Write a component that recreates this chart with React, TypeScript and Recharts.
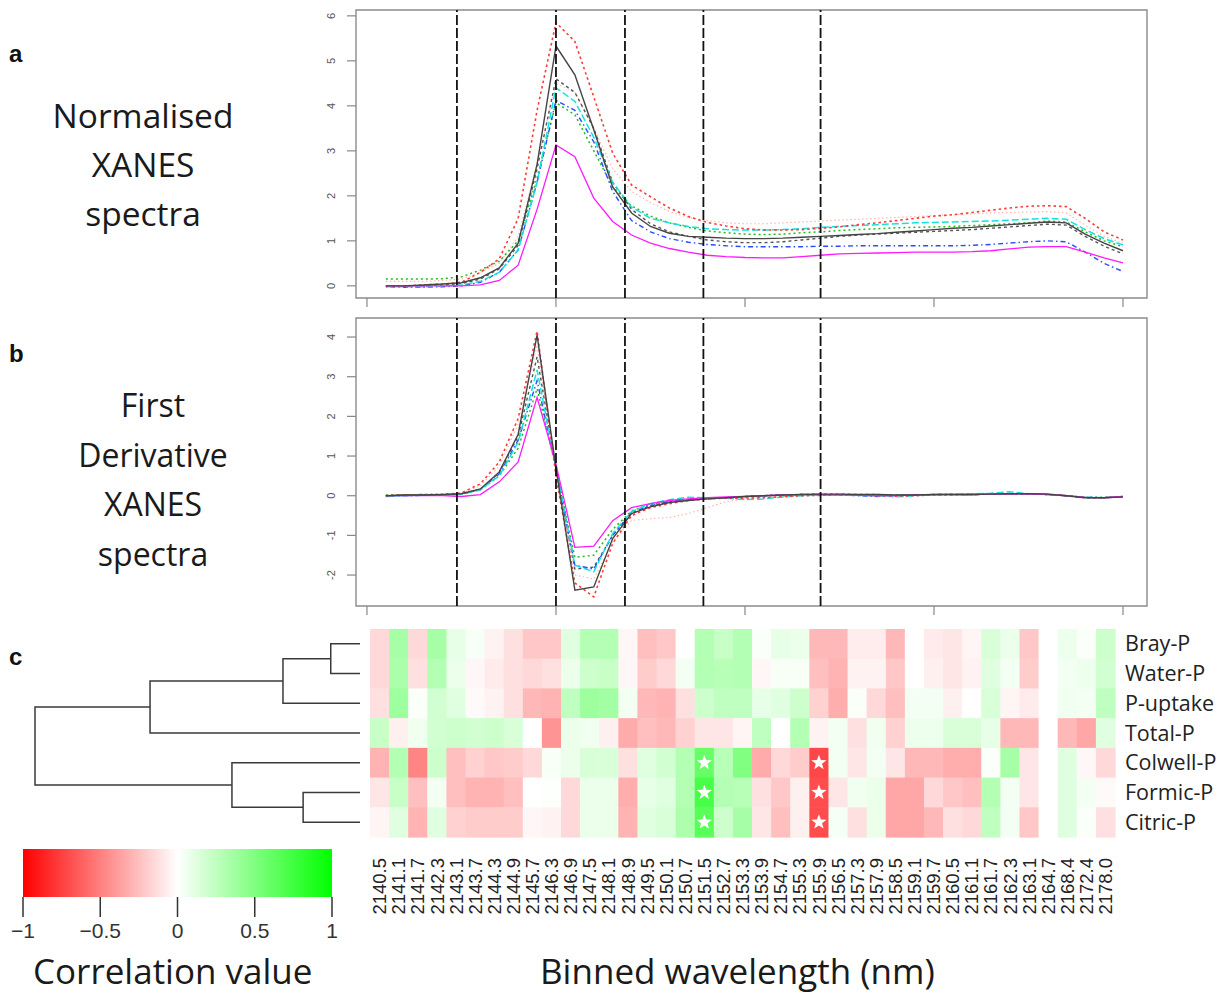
import React from 'react';
import {
  LineChart, Line, XAxis, YAxis, ReferenceLine, ReferenceArea,
  ScatterChart, Scatter,
} from 'recharts';

// ---- spectra (index 1..40) ----
// normalised XANES
const normBlack = [0.0,0.0,0.02,0.04,0.07,0.18,0.4,0.95,2.7,5.33,4.69,3.47,2.2,1.62,1.32,1.17,1.1,1.08,1.06,1.05,1.05,1.06,1.08,1.1,1.12,1.14,1.16,1.19,1.22,1.25,1.28,1.3,1.33,1.36,1.39,1.42,1.4,1.15,0.95,0.78];
const normRed = [0.0,0.0,0.02,0.04,0.08,0.3,0.6,1.5,3.9,5.85,5.43,4.2,2.95,2.24,1.98,1.73,1.54,1.41,1.33,1.27,1.24,1.24,1.25,1.28,1.31,1.36,1.4,1.45,1.5,1.55,1.58,1.63,1.68,1.73,1.77,1.78,1.76,1.5,1.2,1.02];
const normGreen = [0.15,0.15,0.15,0.16,0.2,0.35,0.55,1.0,2.4,4.07,3.8,3.0,2.2,1.78,1.55,1.4,1.3,1.22,1.18,1.15,1.14,1.15,1.18,1.2,1.23,1.25,1.27,1.29,1.3,1.31,1.32,1.34,1.36,1.38,1.4,1.44,1.42,1.2,1.0,0.87];
const normBlue = [-0.02,-0.03,-0.03,-0.02,0.0,0.08,0.3,0.8,2.3,4.12,3.9,3.2,2.1,1.45,1.2,1.05,0.97,0.92,0.89,0.87,0.87,0.87,0.87,0.88,0.88,0.89,0.89,0.89,0.89,0.89,0.89,0.9,0.92,0.95,0.98,1.0,0.98,0.75,0.5,0.32];
const normCyan = [-0.02,-0.02,-0.02,-0.01,0.02,0.1,0.3,0.8,2.3,4.4,4.1,3.3,2.3,1.75,1.5,1.4,1.32,1.27,1.25,1.24,1.24,1.25,1.27,1.3,1.32,1.34,1.36,1.38,1.4,1.41,1.42,1.43,1.44,1.46,1.48,1.5,1.48,1.25,1.05,0.91];
const normMagenta = [0.0,0.0,0.0,0.0,0.0,0.02,0.12,0.46,1.7,3.13,2.87,1.95,1.43,1.13,0.95,0.83,0.75,0.68,0.65,0.63,0.62,0.62,0.65,0.68,0.71,0.72,0.73,0.74,0.75,0.75,0.75,0.76,0.78,0.82,0.86,0.87,0.87,0.75,0.62,0.51];
const normGrey = [0.0,0.0,0.0,0.02,0.05,0.15,0.38,0.9,2.6,4.6,4.3,3.5,2.3,1.7,1.38,1.2,1.1,1.02,0.98,0.96,0.96,0.98,1.02,1.06,1.1,1.13,1.15,1.17,1.19,1.21,1.23,1.25,1.28,1.31,1.34,1.37,1.35,1.1,0.88,0.71];
const normPink = [0.1,0.1,0.1,0.12,0.15,0.3,0.5,1.1,2.7,4.5,4.3,3.5,2.6,2.1,1.85,1.65,1.52,1.45,1.4,1.38,1.38,1.4,1.42,1.44,1.46,1.48,1.5,1.52,1.54,1.56,1.58,1.6,1.62,1.63,1.64,1.65,1.62,1.35,1.1,0.95];

// first derivative
const derivBlack = [0.0,0.02,0.02,0.03,0.05,0.17,0.6,1.55,4.05,0.7,-2.38,-2.3,-1.08,-0.45,-0.28,-0.17,-0.12,-0.08,-0.05,-0.02,0.0,0.02,0.03,0.04,0.04,0.03,0.03,0.02,0.02,0.03,0.03,0.03,0.04,0.05,0.05,0.04,0.0,-0.05,-0.05,-0.03];
const derivRed = [0.0,0.02,0.03,0.03,0.07,0.3,0.85,1.95,4.15,0.5,-2.2,-2.55,-1.2,-0.5,-0.3,-0.2,-0.12,-0.08,-0.06,-0.06,-0.05,-0.02,0.0,0.01,0.02,0.02,0.0,-0.01,0.0,0.02,0.03,0.03,0.04,0.05,0.05,0.04,0.0,-0.05,-0.05,-0.03];
const derivGreen = [0.02,0.02,0.03,0.03,0.05,0.15,0.5,1.2,2.7,0.7,-1.55,-1.5,-0.85,-0.38,-0.22,-0.14,-0.1,-0.07,-0.05,-0.03,0.0,0.02,0.03,0.03,0.03,0.02,0.02,0.02,0.02,0.03,0.03,0.03,0.04,0.05,0.05,0.03,0.0,-0.04,-0.04,-0.02];
const derivBlue = [0.0,0.0,0.01,0.02,0.04,0.15,0.55,1.4,2.9,0.7,-1.75,-1.85,-1.0,-0.42,-0.25,-0.15,-0.1,-0.07,-0.05,-0.02,0.0,0.02,0.03,0.03,0.02,0.0,-0.02,0.0,0.02,0.03,0.03,0.03,0.04,0.05,0.04,0.03,0.0,-0.04,-0.05,-0.03];
const derivCyan = [-0.02,0.0,0.01,0.02,0.04,0.15,0.5,1.35,3.17,0.7,-1.75,-1.92,-0.95,-0.4,-0.2,-0.1,-0.04,-0.05,-0.06,-0.1,-0.08,-0.03,0.0,0.02,0.02,0.01,0.0,-0.03,0.0,0.03,0.04,0.05,0.06,0.1,0.05,0.03,0.0,-0.04,-0.05,-0.02];
const derivMagenta = [0.0,0.0,0.0,0.0,-0.02,0.03,0.35,0.85,2.48,0.8,-1.3,-1.27,-0.63,-0.3,-0.2,-0.12,-0.08,-0.05,-0.03,-0.02,0.0,0.02,0.03,0.03,0.02,0.01,0.0,0.0,0.02,0.03,0.03,0.03,0.04,0.05,0.05,0.03,0.0,-0.04,-0.05,-0.02];
const derivGrey = [0.0,0.02,0.02,0.03,0.05,0.16,0.58,1.5,3.5,0.7,-1.85,-1.8,-1.0,-0.42,-0.26,-0.16,-0.11,-0.08,-0.05,-0.02,0.0,0.02,0.03,0.04,0.04,0.03,0.03,0.02,0.02,0.03,0.03,0.03,0.04,0.05,0.05,0.04,0.0,-0.05,-0.05,-0.03];
const derivPink = [0.0,0.02,0.03,0.03,0.06,0.25,0.75,1.8,3.8,0.6,-2.0,-2.1,-1.15,-0.62,-0.58,-0.55,-0.45,-0.3,-0.15,-0.08,-0.04,-0.02,0.0,0.01,0.02,0.02,0.01,0.0,0.01,0.02,0.03,0.03,0.04,0.05,0.05,0.04,0.0,-0.04,-0.05,-0.03];

const specTicks = [0, 10, 20, 30, 40];
const normTicks = [0, 1, 2, 3, 4, 5, 6];
const derivTicks = [-2, -1, 0, 1, 2, 3, 4];
const edgeLines = [4.76, 10, 13.65, 17.8, 24.0];

// ---- correlation heatmap ----
const wavelengths = ['2140.5','2141.1','2141.7','2142.3','2143.1','2143.7','2144.3','2144.9','2145.7','2146.3','2146.9','2147.5','2148.1','2148.9','2149.5','2150.1','2150.7','2151.5','2152.7','2153.3','2153.9','2154.7','2155.3','2155.9','2156.5','2157.3','2157.9','2158.5','2159.1','2159.7','2160.5','2161.1','2161.7','2162.3','2163.1','2164.7','2168.4','2172.4','2178.0'];
const measures = ['Bray-P', 'Water-P', 'P-uptake', 'Total-P', 'Colwell-P', 'Formic-P', 'Citric-P'];

const corrBray = [-0.15,0.35,-0.15,0.35,0.1,0.03,-0.05,-0.12,-0.22,-0.22,0.12,0.3,0.3,-0.03,-0.25,-0.22,0.0,0.3,0.22,0.3,0.02,0.1,0.08,-0.28,-0.28,-0.07,-0.07,-0.28,0.0,-0.08,-0.1,-0.04,0.15,0.08,-0.22,0.0,0.07,0.02,0.2];
const corrWater = [-0.15,0.33,-0.12,0.3,0.08,-0.03,-0.08,-0.12,-0.15,-0.12,0.08,0.2,0.22,-0.03,-0.2,-0.15,0.05,0.3,0.28,0.3,-0.03,0.03,0.03,-0.25,-0.3,-0.05,-0.05,-0.22,0.0,-0.06,-0.1,-0.05,0.12,0.05,-0.2,0.0,0.05,0.07,0.18];
const corrUptake = [-0.12,0.38,0.02,0.18,0.12,-0.02,-0.05,-0.12,-0.28,-0.3,0.25,0.38,0.36,0.05,-0.28,-0.3,-0.12,0.2,0.25,0.25,0.1,0.12,0.2,-0.18,-0.32,0.02,-0.15,-0.25,0.05,0.05,-0.06,0.0,0.15,-0.04,-0.08,0.0,0.06,0.05,0.25];
const corrTotal = [0.22,-0.06,0.06,0.18,0.2,0.18,0.2,0.15,0.0,-0.42,0.08,0.06,-0.06,-0.33,-0.25,-0.28,-0.18,-0.1,-0.1,-0.04,0.25,0.0,0.3,-0.05,0.05,-0.12,0.06,-0.18,0.07,0.07,0.15,0.15,0.1,-0.28,-0.28,0.0,-0.28,-0.35,0.12];
const corrColwell = [-0.3,0.3,-0.48,0.2,-0.25,-0.18,-0.22,-0.2,-0.15,0.03,0.08,0.15,0.15,-0.12,0.12,0.18,0.3,0.6,0.28,0.5,-0.33,-0.15,-0.2,-0.72,0.05,-0.1,0.05,-0.1,-0.28,-0.28,-0.32,-0.32,0.02,0.35,-0.1,0.0,0.12,-0.03,-0.15];
const corrFormic = [-0.1,0.22,-0.25,0.05,-0.25,-0.3,-0.3,-0.25,0.0,0.01,-0.15,0.08,0.08,-0.32,0.1,0.12,0.3,0.72,0.3,0.28,-0.12,-0.22,-0.06,-0.7,-0.1,0.06,0.08,-0.35,-0.35,-0.15,-0.22,-0.25,0.3,0.05,-0.1,0.0,0.12,0.05,-0.02];
const corrCitric = [-0.04,0.12,-0.3,0.12,-0.18,-0.2,-0.2,-0.2,-0.03,-0.05,-0.15,0.08,0.08,-0.3,0.12,0.15,0.32,0.65,0.2,0.35,-0.1,-0.25,-0.06,-0.7,0.04,-0.12,0.08,-0.35,-0.35,-0.28,-0.12,-0.15,0.25,0.05,-0.22,0.0,0.12,0.02,-0.12];
const corrRows = [corrBray, corrWater, corrUptake, corrTotal, corrColwell, corrFormic, corrCitric];
// significant cells [row, column]
const starCells = [[4, 17], [5, 17], [6, 17], [4, 23], [5, 23], [6, 23]];

// dendrogram: R-style merge table (negative = leaf), merge heights 0..1
const merges: [number, number, number][] = [
  [-1, -2, 0.09],
  [1, -3, 0.237],
  [2, -4, 0.646],
  [-6, -7, 0.175],
  [-5, 4, 0.394],
  [3, 5, 1.0],
];

const colorbarTicks = [-1, -0.5, 0, 0.5, 1];

// ---------------------------------------------------------------
const SERIES = [
  { key: 'pink', color: '#ffb8b0', dash: '1.5 2.5', width: 1.2 },
  { key: 'grey', color: '#555555', dash: '3 3', width: 1.4 },
  { key: 'green', color: '#1fbf1f', dash: '2 3', width: 1.5 },
  { key: 'blue', color: '#2a4cff', dash: '1.5 3 5 3', width: 1.4 },
  { key: 'cyan', color: '#17e0e0', dash: '7 3', width: 1.5 },
  { key: 'red', color: '#ff3a3a', dash: '2.5 3', width: 1.6 },
  { key: 'magenta', color: '#ff1aff', dash: undefined, width: 1.3 },
  { key: 'black', color: '#444444', dash: undefined, width: 1.4 },
];

const normData = normBlack.map((_, i) => ({
  idx: i + 1,
  black: normBlack[i], red: normRed[i], green: normGreen[i], blue: normBlue[i],
  cyan: normCyan[i], magenta: normMagenta[i], grey: normGrey[i], pink: normPink[i],
}));
const derivData = derivBlack.map((_, i) => ({
  idx: i + 1,
  black: derivBlack[i], red: derivRed[i], green: derivGreen[i], blue: derivBlue[i],
  cyan: derivCyan[i], magenta: derivMagenta[i], grey: derivGrey[i], pink: derivPink[i],
}));

const starSet = new Set(starCells.map(([r, c]) => `${r}-${c}`));
const cells = corrRows.flatMap((row, r) =>
  row.map((v, c) => ({ col: c + 0.5, row: r + 0.5, v, star: starSet.has(`${r}-${c}`) }))
);
const colTicks = wavelengths.map((_, c) => c + 0.5);
const rowTicks = measures.map((_, r) => r + 0.5);

// build bracket polylines for the dendrogram
const nodePos: { pos: number; h: number }[] = [];
const brackets = merges.map(([a, b, h]) => {
  const get = (n: number) => (n < 0 ? { pos: -n - 1 + 0.5, h: 0 } : nodePos[n - 1]);
  const na = get(a);
  const nb = get(b);
  nodePos.push({ pos: (na.pos + nb.pos) / 2, h });
  return [
    { h: na.h, r: na.pos },
    { h, r: na.pos },
    { h, r: nb.pos },
    { h: nb.h, r: nb.pos },
  ];
});

const corrColor = (v: number) => {
  const t = Math.min(1, Math.abs(v));
  const c = Math.round(255 * (1 - t));
  return v < 0 ? `rgb(255,${c},${c})` : `rgb(${c},255,${c})`;
};

const starPath = (cx: number, cy: number, ro: number, ri: number) => {
  let d = '';
  for (let k = 0; k < 10; k++) {
    const rad = k % 2 === 0 ? ro : ri;
    const a = -Math.PI / 2 + (k * Math.PI) / 5;
    d += `${k === 0 ? 'M' : 'L'}${cx + rad * Math.cos(a)},${cy + rad * Math.sin(a)}`;
  }
  return d + 'Z';
};

const CELL_W = 745 / 39;
const CELL_H = 208 / 7;

const HeatCell = (props: any) => {
  const { cx, cy, payload } = props;
  return (
    <g>
      <rect x={cx - CELL_W / 2} y={cy - CELL_H / 2} width={CELL_W + 0.6} height={CELL_H + 0.6} fill={corrColor(payload.v)} />
      {payload.star && <path d={starPath(cx, cy, 8, 3.3)} fill="#ffffff" />}
    </g>
  );
};

const RotYTick = (props: any) => {
  const { x, y, payload } = props;
  const tx = x - 10;
  return (
    <text x={tx} y={y} transform={`rotate(-90, ${tx}, ${y})`} textAnchor="middle"
      fontSize={11} fill="#555" fontFamily="'Liberation Sans', Arial, sans-serif">
      {payload.value}
    </text>
  );
};

const WaveTick = (props: any) => {
  const { x, y, payload } = props;
  const label = wavelengths[Math.floor(payload.value)];
  return (
    <text x={x} y={y} dy="0.36em" transform={`rotate(-90, ${x}, ${y})`} textAnchor="end"
      fontSize={18.5} fill="#222" fontFamily="'Liberation Sans', Arial, sans-serif">
      {label}
    </text>
  );
};

const RowTick = (props: any) => {
  const { x, y, payload } = props;
  return (
    <text x={x} y={y} dy="0.35em" textAnchor="start" fontSize={21.5} fill="#222"
      fontFamily="'Open Sans', sans-serif">
      {measures[Math.floor(payload.value)]}
    </text>
  );
};

const NoDot = () => <g />;

const SpectraPanel = ({ data, domain, ticks }: { data: any[]; domain: number[]; ticks: number[] }) => (
  <LineChart width={870} height={320} data={data} margin={{ top: 10, right: 23, left: 16, bottom: 10 }}>
    <XAxis type="number" dataKey="idx" domain={[-0.58, 41.27]} ticks={specTicks} allowDataOverflow
      axisLine={false} tickLine={{ stroke: '#888', strokeWidth: 1.2 }} tickSize={9} height={12}
      tickFormatter={() => ''} />
    <YAxis type="number" domain={domain} ticks={ticks} allowDataOverflow width={40}
      axisLine={false} tickLine={{ stroke: '#888', strokeWidth: 1.2 }} tickSize={9} tick={<RotYTick />} />
    <ReferenceArea x1={-0.58} x2={41.27} y1={domain[0]} y2={domain[1]} fill="none"
      stroke="#8c8c8c" strokeWidth={1.4} ifOverflow="visible" />
    {SERIES.map((s) => (
      <Line key={s.key} dataKey={s.key} type="linear" stroke={s.color} strokeWidth={s.width}
        strokeDasharray={s.dash} dot={false} isAnimationActive={false} />
    ))}
    {edgeLines.map((x) => (
      <ReferenceLine key={x} x={x} stroke="#111" strokeWidth={1.8} strokeDasharray="10 3" ifOverflow="visible" />
    ))}
  </LineChart>
);

const textStyle: React.CSSProperties = {
  position: 'absolute', fontFamily: "'Open Sans', sans-serif", color: '#1a1a1a', whiteSpace: 'nowrap',
};
const panelLetter: React.CSSProperties = {
  position: 'absolute', fontFamily: "'Liberation Sans', Arial, sans-serif", fontWeight: 700, fontSize: 24, color: '#111',
};

export default function App() {
  return (
    <div style={{ position: 'absolute', left: 0, top: 0, width: 1231, height: 996, background: '#fff', overflow: 'hidden' }}>
      {/* panel letters */}
      <div style={{ ...panelLetter, left: 9, top: 40 }}>a</div>
      <div style={{ ...panelLetter, left: 9, top: 340 }}>b</div>
      <div style={{ ...panelLetter, left: 9, top: 643 }}>c</div>

      {/* panel descriptions */}
      <div style={{ ...textStyle, left: 23, top: 91, width: 240, textAlign: 'center', fontSize: 33.5, lineHeight: '49px' }}>
        Normalised<br />XANES<br />spectra
      </div>
      <div style={{ ...textStyle, left: 33, top: 380, width: 240, textAlign: 'center', fontSize: 32, lineHeight: '49.5px' }}>
        First<br />Derivative<br />XANES<br />spectra
      </div>

      {/* a: normalised spectra */}
      <div style={{ position: 'absolute', left: 300, top: 0 }}>
        <SpectraPanel data={normData} domain={[-0.27, 6.13]} ticks={normTicks} />
      </div>

      {/* b: first derivative */}
      <div style={{ position: 'absolute', left: 300, top: 308 }}>
        <SpectraPanel data={derivData} domain={[-2.78, 4.48]} ticks={derivTicks} />
      </div>

      {/* c: dendrogram */}
      <div style={{ position: 'absolute', left: 0, top: 620 }}>
        <ScatterChart width={370} height={230} margin={{ top: 9, right: 10, left: 35, bottom: 13 }}>
          <XAxis type="number" dataKey="h" domain={[0, 1]} reversed hide />
          <YAxis type="number" dataKey="r" domain={[0, 7]} reversed hide />
          {brackets.map((b, i) => (
            <Scatter key={i} data={b} line={{ stroke: '#3a3a3a', strokeWidth: 1.5 }} shape={NoDot}
              isAnimationActive={false} />
          ))}
        </ScatterChart>
      </div>

      {/* c: heatmap */}
      <div style={{ position: 'absolute', left: 360, top: 620 }}>
        <ScatterChart width={870} height={320} margin={{ top: 9, right: 0, left: 10, bottom: 23 }}>
          <XAxis type="number" dataKey="col" domain={[0, 39]} ticks={colTicks} interval={0}
            axisLine={false} tickLine={false} tickSize={0} tickMargin={21} height={80} tick={<WaveTick />} />
          <YAxis type="number" dataKey="row" domain={[0, 7]} reversed orientation="right" ticks={rowTicks}
            interval={0} axisLine={false} tickLine={false} tickSize={0} tickMargin={10} width={115} tick={<RowTick />} />
          <Scatter data={cells} shape={HeatCell} isAnimationActive={false} />
        </ScatterChart>
      </div>

      {/* colour key */}
      <div style={{ position: 'absolute', left: 0, top: 840 }}>
        <ScatterChart width={370} height={110} margin={{ top: 9, right: 38, left: 23, bottom: 8 }}>
          <defs>
            <linearGradient id="corrGrad" x1="0" y1="0" x2="1" y2="0">
              <stop offset="0%" stopColor="#ff0000" />
              <stop offset="50%" stopColor="#ffffff" />
              <stop offset="100%" stopColor="#00ff00" />
            </linearGradient>
          </defs>
          <XAxis type="number" dataKey="v" domain={[-1, 1]} ticks={colorbarTicks} interval={0}
            axisLine={false} tickLine={{ stroke: '#333', strokeWidth: 1.5 }} tickSize={20} tickMargin={6} height={45}
            tick={{ fontSize: 21, fill: '#333', fontFamily: "'Liberation Sans', Arial, sans-serif" }}
            tickFormatter={(v: number) => String(v).replace('-', '\u2212')} />
          <YAxis type="number" dataKey="y" domain={[0, 1]} hide />
          <ReferenceArea x1={-1} x2={1} y1={0} y2={1} fill="url(#corrGrad)" fillOpacity={1} stroke="none" />
          <Scatter data={colorbarTicks.map((v) => ({ v, y: 0 }))} shape={NoDot} isAnimationActive={false} />
        </ScatterChart>
      </div>

      {/* axis titles */}
      <div style={{ ...textStyle, left: 33, top: 947, fontSize: 35 }}>Correlation value</div>
      <div style={{ ...textStyle, left: 540, top: 947, fontSize: 35 }}>Binned wavelength (nm)</div>
    </div>
  );
}
